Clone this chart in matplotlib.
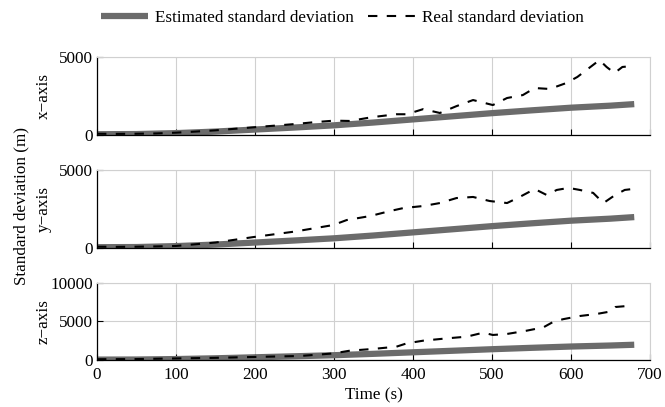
import numpy as np
import matplotlib.pyplot as plt
from matplotlib.lines import Line2D

plt.rcParams['font.family'] = ['Liberation Serif', 'DejaVu Serif']
plt.rcParams['font.size'] = 12.3

# estimated standard deviation (same filter estimate on each axis)
t_est = [0, 50, 100, 150, 200, 250, 300, 350, 400, 450, 500, 550, 600, 650, 680]
est = [50, 60, 120, 220, 350, 480, 620, 800, 1000, 1200, 1400, 1580, 1750, 1880, 1980]

# real standard deviation, x axis
t_x = [0, 25, 50, 75, 100, 125, 150, 175, 200, 225, 250, 275, 300, 320, 349, 379,
       392, 413, 434, 455, 476, 501, 519, 539, 554, 573, 594, 608, 623, 636, 645,
       655, 665, 678]
real_x = [80, 70, 80, 100, 150, 220, 300, 400, 500, 600, 700, 820, 920, 900, 1150,
          1330, 1330, 1660, 1410, 1850, 2240, 1920, 2370, 2560, 3010, 2950, 3330,
          3720, 4300, 4800, 4360, 3970, 4360, 4420]

# real standard deviation, y axis
t_y = [0, 25, 50, 75, 100, 150, 198, 250, 299, 316, 346, 371, 388, 413, 434, 455,
       476, 497, 519, 535, 554, 569, 582, 597, 611, 628, 641, 656, 668, 678]
real_y = [80, 70, 80, 100, 130, 350, 700, 1050, 1470, 1790, 2050, 2370, 2560, 2690,
          2880, 3200, 3270, 3010, 2880, 3270, 3780, 3400, 3720, 3850, 3720, 3530,
          2880, 3400, 3720, 3780]

# real standard deviation, z axis
t_z = [0, 50, 100, 150, 198, 257, 299, 320, 349, 379, 392, 413, 443, 468, 489, 501,
       519, 544, 565, 578, 590, 611, 632, 649, 656, 671, 678]
real_z = [100, 120, 200, 280, 390, 520, 850, 1210, 1430, 1730, 2160, 2510, 2810,
          3030, 3550, 3250, 3380, 3810, 4240, 4980, 5300, 5710, 5970, 6280, 6880,
          7010, 6880]

panels = [
    ('x\u2212axis', t_x, real_x, 5000, [0, 5000]),
    ('y\u2212axis', t_y, real_y, 5000, [0, 5000]),
    ('z\u2212axis', t_z, real_z, 10000, [0, 5000, 10000]),
]
# axes boxes: left, bottom, width, height
boxes = [
    [0.1459, 0.6683, 0.8316, 0.1917],
    [0.1459, 0.3907, 0.8316, 0.1917],
    [0.1459, 0.1155, 0.8316, 0.1892],
]

est_color = '#6b6b6b'
grid_color = '#d0d0d0'
dash = (4.5, 4.5)

fig = plt.figure(figsize=(6.65, 4.07), dpi=100)

for (name, t, real, ymax, yt), box in zip(panels, boxes):
    ax = fig.add_axes(box)
    ax.plot(t_est, est, color=est_color, lw=4.5, solid_capstyle='butt', zorder=2)
    ax.plot(t, real, color='black', lw=1.5, dashes=dash, zorder=3)
    ax.set_xlim(0, 700)
    ax.set_ylim(0, ymax)
    ax.set_xticks(np.arange(0, 701, 100))
    ax.set_yticks(yt)
    ax.grid(True, color=grid_color, lw=0.8)
    ax.set_axisbelow(True)
    ax.tick_params(direction='in', length=4, width=0.8, top=False, right=False)
    ax.tick_params(axis='x', pad=5)
    ax.tick_params(axis='y', pad=3)
    for side in ['top', 'right']:
        ax.spines[side].set_color(grid_color)
    for side in ['left', 'bottom']:
        ax.spines[side].set_linewidth(0.9)
    ax.set_ylabel(name)
    ax.yaxis.set_label_coords(-0.082, 0.5)
    if ymax != 10000:
        ax.set_xticklabels([])
    else:
        ax.set_xlabel('Time (s)', labelpad=3)

fig.text(0.032, 0.494, 'Standard deviation (m)', rotation=90, va='center',
         ha='center')

handles = [
    Line2D([], [], color=est_color, lw=4.5, solid_capstyle='butt'),
    Line2D([], [], color='black', lw=1.5, dashes=dash),
]
fig.legend(handles, ['Estimated standard deviation', 'Real standard deviation'],
           loc='center', bbox_to_anchor=(0.515, 0.955), ncol=2, frameon=False,
           handlelength=2.8, handletextpad=0.4, columnspacing=0.8)

fig.savefig('out.png', dpi=100)
